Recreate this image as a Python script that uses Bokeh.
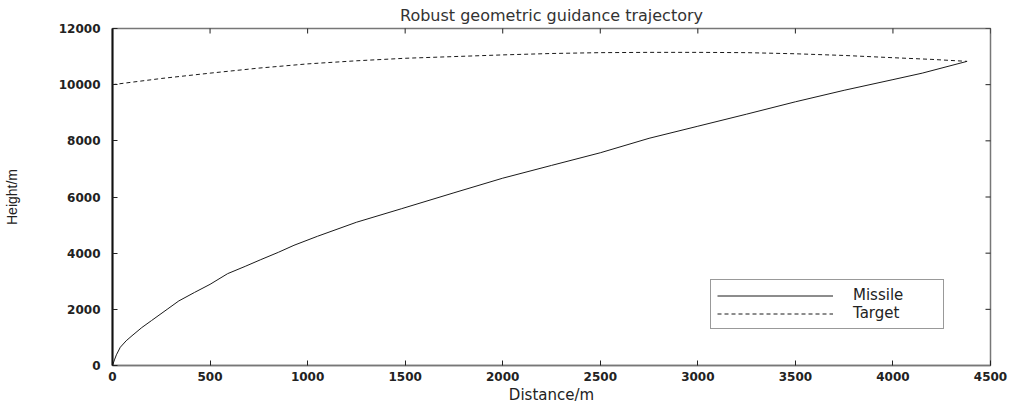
import math
from bokeh.plotting import figure
from bokeh.models import Range1d, LinearAxis, SingleIntervalTicker, Legend, LegendItem, Title
from bokeh.embed import file_html
from bokeh.resources import INLINE

# ---- data ----
missile_x = [0, 10, 20, 40, 70, 100, 150, 200, 280, 340, 420, 500, 590, 680, 760, 850, 930,
             1050, 1250, 1480, 1750, 2000, 2250, 2500, 2750, 3000, 3250, 3500, 3750, 4000, 4150, 4380]
missile_y = [0, 200, 380, 650, 880, 1060, 1350, 1600, 2000, 2300, 2600, 2890, 3270, 3530, 3770, 4030, 4280,
             4600, 5100, 5580, 6150, 6670, 7125, 7575, 8090, 8520, 8950, 9390, 9800, 10180, 10410, 10830]

target_x = [0, 250, 500, 750, 1000, 1250, 1500, 1750, 2000, 2250, 2500, 2750, 3000, 3250, 3500,
            3750, 4000, 4200, 4380]
target_y = [10000, 10220, 10410, 10590, 10740, 10850, 10940, 11000, 11060, 11110, 11140, 11150, 11150,
            11140, 11100, 11040, 10960, 10900, 10830]

title_text = "Robust geometric guidance trajectory"
x_label = "Distance/m"
y_label = "Height/m"
series_names = ["Missile", "Target"]

x_min, x_max, x_step = 0, 4500, 500
y_min, y_max, y_step = 0, 12000, 2000
x_ticks = list(range(x_min, x_max + 1, x_step))
y_ticks = list(range(y_min, y_max + 1, y_step))

p = figure(width=1013, height=403, output_backend="svg", toolbar_location=None,
           x_range=Range1d(x_min, x_max), y_range=Range1d(y_min, y_max),
           x_axis_location=None, y_axis_location=None, title=None,
           min_border_left=112, min_border_right=23, min_border_top=27, min_border_bottom=38)
p.outline_line_color = "#777777"
p.outline_line_width = 1.5
p.grid.visible = False
p.background_fill_color = "white"
p.border_fill_color = "white"

tick_font = "DejaVu Sans"

def make_axis(interval, line_color, line_width, standoff):
    ax = LinearAxis(ticker=SingleIntervalTicker(interval=interval))
    ax.major_tick_in = 5
    ax.major_tick_out = 0
    ax.minor_tick_line_color = None
    ax.major_tick_line_color = "#222222"
    ax.axis_line_color = line_color
    ax.axis_line_width = line_width
    ax.major_label_text_font = tick_font
    ax.major_label_text_font_style = "bold"
    ax.major_label_text_font_size = "12px"
    ax.major_label_text_color = "#222222"
    ax.major_label_standoff = standoff
    return ax

bottom = make_axis(x_step, "#777777", 1.5, 2)
left = make_axis(y_step, "#111111", 2, 8)
left.axis_label = y_label
left.axis_label_text_font = "Liberation Sans"
left.axis_label_text_font_size = "14px"
left.axis_label_text_font_style = "normal"
left.axis_label_text_color = "#222222"
left.axis_label_standoff = 36
p.add_layout(bottom, "below")
p.add_layout(left, "left")

# inward ticks on the top and right edges of the box
p.scatter(x_ticks, [y_max] * len(x_ticks), marker="dash", size=10, angle=math.pi / 2,
          line_color="#222222", line_width=1)
p.scatter([x_max] * len(y_ticks), y_ticks, marker="dash", size=10,
          line_color="#222222", line_width=1)

r_m = p.line(missile_x, missile_y, line_color="#1a1a1a", line_width=1)
r_t = p.line(target_x, target_y, line_color="#1a1a1a", line_width=1, line_dash="4 3")

legend = Legend(items=[LegendItem(label=series_names[0], renderers=[r_m]),
                       LegendItem(label=series_names[1], renderers=[r_t])],
                location=(598, 36), orientation="vertical")
legend.border_line_color = "#333333"
legend.border_line_width = 1.5
legend.background_fill_color = "white"
legend.background_fill_alpha = 1
legend.label_text_font = "DejaVu Sans"
legend.label_text_font_size = "15px"
legend.label_text_color = "#222222"
legend.glyph_width = 116
legend.glyph_height = 17
legend.label_height = 17
legend.label_width = 84
legend.label_standoff = 20
legend.padding = 6
legend.spacing = 0
legend.margin = 0
p.add_layout(legend, "center")

t_title = Title(text=title_text, align="center", offset=34, text_font="DejaVu Sans",
                text_font_size="16px", text_font_style="normal", text_color="#333333", standoff=7)
p.add_layout(t_title, "above")
t_x = Title(text=x_label, align="center", offset=38, text_font="DejaVu Sans",
            text_font_size="15px", text_font_style="normal", text_color="#222222", standoff=0)
p.add_layout(t_x, "below")

open("out.html", "w").write(file_html(p, INLINE))
